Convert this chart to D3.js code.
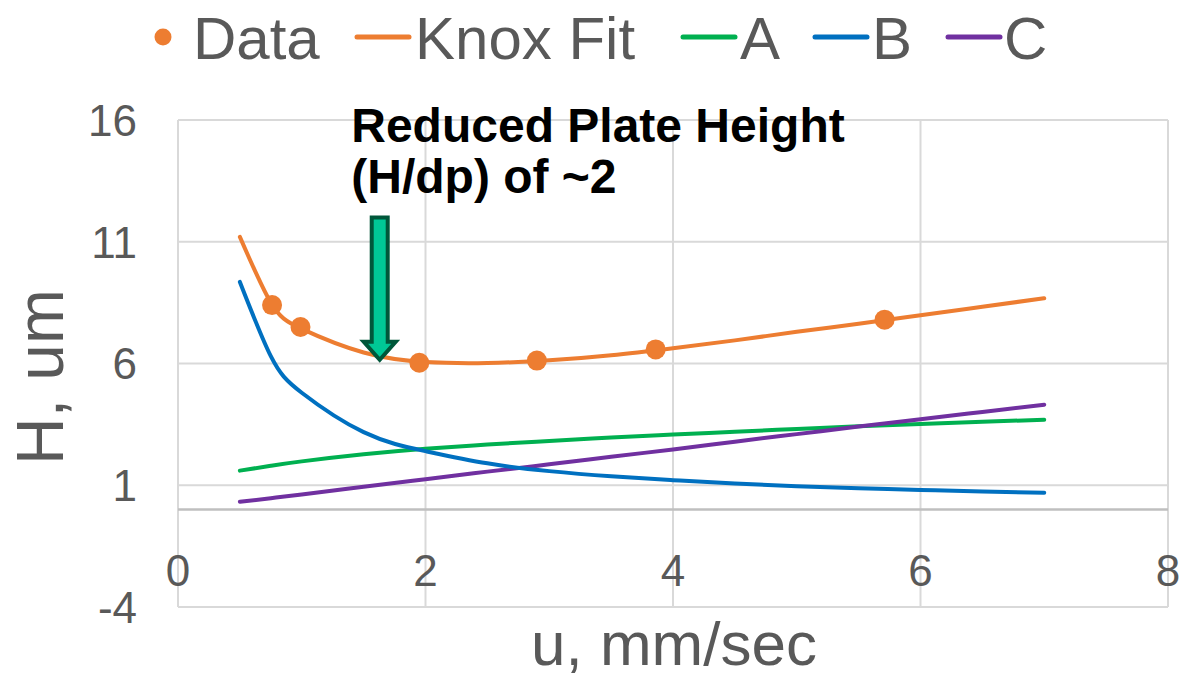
<!DOCTYPE html>
<html><head><meta charset="utf-8">
<script src="https://cdn.jsdelivr.net/npm/d3@7"></script>
<style>html,body{margin:0;padding:0;background:#fff;}svg{display:block;}</style>
</head><body>
<svg id="chart" width="1180" height="679"></svg>
<script>
// ---- data ----
const dataU = [0.76, 0.99, 1.95, 2.90, 3.86, 5.71];
const dataH = [8.40, 7.50, 6.03, 6.12, 6.58, 7.80];

const curveU = [0.5, 0.75, 1, 1.5, 2, 2.5, 3, 3.5, 4, 4.5, 5, 5.5, 6, 6.5, 7];
const knoxH  = [11.2, 8.5, 7.42, 6.45, 6.06, 6.02, 6.13, 6.34, 6.63, 6.95, 7.3, 7.63, 7.98, 8.33, 8.68];
const aH     = [1.60, 1.80, 1.98, 2.27, 2.50, 2.67, 2.82, 2.96, 3.08, 3.20, 3.31, 3.42, 3.52, 3.61, 3.69];
const bH     = [9.35, 6.30, 4.80, 3.18, 2.40, 1.90, 1.58, 1.37, 1.21, 1.07, 0.96, 0.88, 0.81, 0.74, 0.69];
const cH     = [0.32, 0.47, 0.62, 0.94, 1.25, 1.56, 1.86, 2.17, 2.47, 2.79, 3.10, 3.41, 3.71, 4.01, 4.31];

const xTicks = [0, 2, 4, 6, 8];
const yTicks = [-4, 1, 6, 11, 16];

const legendNames = ["Data", "Knox Fit", "A", "B", "C"];
const colors = {Data:"#ED7D31", "Knox Fit":"#ED7D31", A:"#00B050", B:"#0070C0", C:"#7030A0"};

const annotation = ["Reduced Plate Height", "(H/dp) of ~2"];
const arrowTip = {u:1.63, h:6.15};
const arrowTop = {u:1.63, h:12.0};
const textAnchorPt = {u:1.40, h:15.1};

// ---- layout ----
const svg = d3.select("#chart");
const x = d3.scaleLinear().domain([0, 8]).range([178, 1168]);
const y = d3.scaleLinear().domain([-4, 16]).range([607, 120]);
const font = "'Liberation Sans', Arial, sans-serif";
const grey = "#595959";

// gridlines
const g = svg.append("g");
g.selectAll(".hg").data(yTicks).enter().append("line")
  .attr("x1", x(0)).attr("x2", x(8))
  .attr("y1", d=>y(d)).attr("y2", d=>y(d))
  .attr("stroke", "#d9d9d9").attr("stroke-width", 2);
g.selectAll(".vg").data(xTicks).enter().append("line")
  .attr("y1", y(-4)).attr("y2", y(16))
  .attr("x1", d=>x(d)).attr("x2", d=>x(d))
  .attr("stroke", "#d9d9d9").attr("stroke-width", 2);
// x axis line at 0
svg.append("line").attr("x1", x(0)).attr("x2", x(8)).attr("y1", y(0)).attr("y2", y(0))
  .attr("stroke", "#bfbfbf").attr("stroke-width", 2.5);

// tick labels
svg.selectAll(".yt").data(yTicks).enter().append("text")
  .attr("x", 137).attr("y", d=>y(d)).attr("dy", "0.36em")
  .attr("text-anchor", "end").attr("font-family", font).attr("font-size", 44)
  .attr("fill", grey).text(d=>d);
svg.selectAll(".xt").data(xTicks).enter().append("text")
  .attr("x", d=>x(d)).attr("y", y(0) + 76)
  .attr("text-anchor", "middle").attr("font-family", font).attr("font-size", 44)
  .attr("fill", grey).text(d=>d);

// axis titles
svg.append("text").attr("x", 674).attr("y", 665).attr("text-anchor", "middle")
  .attr("font-family", font).attr("font-size", 62).attr("fill", grey).text("u, mm/sec");
svg.append("text").attr("transform", `translate(63,${377}) rotate(-90)`).attr("text-anchor", "middle")
  .attr("font-family", font).attr("font-size", 66).attr("fill", grey).text("H, um");

// series lines
const line = d3.line().x(d=>x(d[0])).y(d=>y(d[1])).curve(d3.curveNatural);
const series = [["A", aH], ["C", cH], ["B", bH], ["Knox Fit", knoxH]];
series.forEach(([name, vals]) => {
  svg.append("path").datum(curveU.map((u,i)=>[u, vals[i]]))
    .attr("d", line).attr("fill", "none").attr("stroke", colors[name])
    .attr("stroke-width", 4).attr("stroke-linecap", "round");
});

// data points
svg.selectAll(".pt").data(dataU.map((u,i)=>[u, dataH[i]])).enter().append("circle")
  .attr("cx", d=>x(d[0])).attr("cy", d=>y(d[1])).attr("r", 10).attr("fill", colors.Data);

// annotation text
const tx = x(textAnchorPt.u), ty = y(textAnchorPt.h);
svg.append("text").attr("font-family", font).attr("font-weight", "bold").attr("font-size", 48)
  .attr("fill", "#000").selectAll("tspan").data(annotation).enter().append("tspan")
  .attr("x", tx).attr("y", (d,i)=> ty + i*51).text(d=>d);

// arrow
const ax = x(arrowTip.u), tipY = y(arrowTip.h), topY = y(arrowTop.h);
const sw = 8, hw = 16, hl = 18;
const arrowPath = d3.path();
arrowPath.moveTo(ax - sw, topY);
arrowPath.lineTo(ax + sw, topY);
arrowPath.lineTo(ax + sw, tipY - hl);
arrowPath.lineTo(ax + hw, tipY - hl);
arrowPath.lineTo(ax, tipY);
arrowPath.lineTo(ax - hw, tipY - hl);
arrowPath.lineTo(ax - sw, tipY - hl);
arrowPath.closePath();
svg.append("path").attr("d", arrowPath.toString()).attr("fill", "#00C896")
  .attr("stroke", "#00573A").attr("stroke-width", 4).attr("stroke-linejoin", "miter");

// legend
const legY = 37;
const leg = svg.append("g").attr("font-family", font).attr("font-size", 60).attr("fill", grey);
const legItems = [
  {name:"Data", mx:163, tx:193},
  {name:"Knox Fit", mx:357, tx:415},
  {name:"A", mx:683, tx:740},
  {name:"B", mx:815, tx:872},
  {name:"C", mx:948, tx:1004}
];
legItems.forEach((it, i) => {
  const name = legendNames[i];
  if (name === "Data") {
    leg.append("circle").attr("cx", it.mx).attr("cy", legY).attr("r", 8.5).attr("fill", colors[name]);
  } else {
    leg.append("line").attr("x1", it.mx).attr("x2", it.mx + 52).attr("y1", legY).attr("y2", legY)
      .attr("stroke", colors[name]).attr("stroke-width", 5).attr("stroke-linecap", "round");
  }
  leg.append("text").attr("x", it.tx).attr("y", legY).attr("dy", "0.36em").text(name);
});
</script>
</body></html>
